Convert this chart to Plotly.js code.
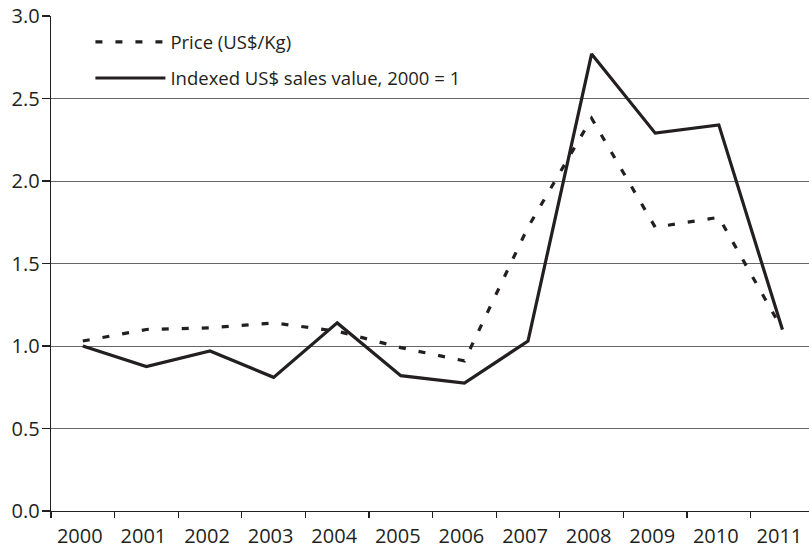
<!DOCTYPE html>
<html>
<head>
<meta charset="utf-8">
<script src="https://cdn.plot.ly/plotly-3.0.1.min.js"></script>
<style>html,body{margin:0;padding:0;background:#fff;}#chart{width:809px;height:549px;}</style>
</head>
<body>
<div id="chart"></div>
<script>
var years = ["2000","2001","2002","2003","2004","2005","2006","2007","2008","2009","2010","2011"];
var priceValues = [1.03, 1.10, 1.11, 1.14, 1.09, 0.99, 0.91, 1.72, 2.38, 1.72, 1.78, 1.10];
var indexedValues = [1.00, 0.875, 0.97, 0.81, 1.14, 0.82, 0.775, 1.03, 2.77, 2.29, 2.34, 1.10];
var yTicks = [0, 0.5, 1.0, 1.5, 2.0, 2.5, 3.0];
var yTickLabels = ["0.0", "0.5", "1.0", "1.5", "2.0", "2.5", "3.0"];
var seriesNames = ["Price (US$/Kg)", "Indexed US$ sales value, 2000 = 1"];

var ink = "#231f20";
var font = "Open Sans, Noto Sans, sans-serif";

var traces = [
  {x: years, y: priceValues, name: seriesNames[0], type: "scatter", mode: "lines",
   legendgroup: "a", line: {color: ink, width: 3.2, dash: "7px,13px"}},
  {x: years, y: indexedValues, name: seriesNames[1], type: "scatter", mode: "lines",
   legendgroup: "b", line: {color: ink, width: 3.2}}
];

var layout = {
  width: 809, height: 549,
  margin: {l: 51, r: 0, t: 16, b: 38, pad: 0},
  paper_bgcolor: "#fff", plot_bgcolor: "#fff",
  font: {family: font, size: 20, color: ink},
  showlegend: true,
  legend: {x: 0.052, y: 0.985, xanchor: "left", yanchor: "top",
           bgcolor: "rgba(255,255,255,0)", font: {family: font, size: 18.5, color: ink},
           traceorder: "grouped", tracegroupgap: 9, itemwidth: 70},
  xaxis: {type: "category", range: [-0.5, 11.418], tickson: "boundaries",
          showgrid: false, showline: true, linecolor: ink, linewidth: 1.3,
          ticks: "outside", ticklen: 6, tickcolor: ink, tickwidth: 1.3,
          ticklabelstandoff: 7, ticklabelshift: -3,
          tickfont: {family: font, size: 20, color: ink}, fixedrange: true},
  yaxis: {range: [0, 3.0], tickvals: yTicks, ticktext: yTickLabels,
          showgrid: true, gridcolor: "#666", gridwidth: 1, zeroline: false,
          showline: true, linecolor: ink, linewidth: 1.3,
          ticks: "outside", ticklen: 8, tickcolor: ink, tickwidth: 1.3,
          ticklabelstandoff: -2,
          tickfont: {family: font, size: 20, color: ink}, fixedrange: true}
};

Plotly.newPlot("chart", traces, layout, {displayModeBar: false, staticPlot: true});
</script>
</body>
</html>
